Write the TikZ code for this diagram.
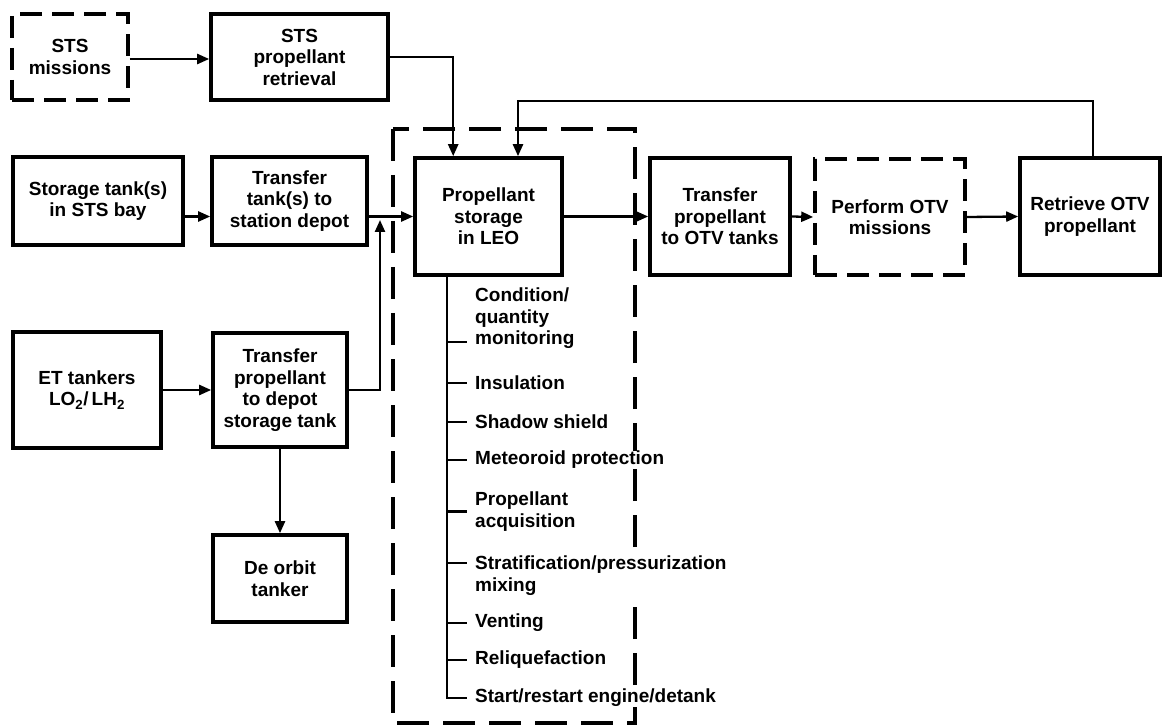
\documentclass[tikz,border=0pt]{standalone}
\usepackage{fontspec}
\setmainfont{Liberation Sans}
\usetikzlibrary{arrows.meta}
\begin{document}
\begin{tikzpicture}[x=1pt,y=-1pt,
  font=\fontsize{19}{21.5}\selectfont\bfseries,
  box/.style={draw,line width=3.6pt,align=center,inner sep=0pt},
  dbox/.style={box,dash pattern=on 22pt off 10pt},
  arr/.style={line width=2.3pt,-{Triangle[length=12pt,width=10pt]}},
  ln/.style={line width=2.3pt},
  item/.style={anchor=west,align=left,fill=white,inner xsep=2pt,inner ysep=0pt}]
\useasboundingbox (0,0) rectangle (1162,727);

% storage depot boundary
\draw[line width=3.2pt,dash pattern=on 32pt off 14pt] (393,129) rectangle (635,723);

% supply chain boxes
\node[dbox,minimum width=116pt,minimum height=86pt] (mis) at (70,57) {STS\\missions};
\node[box,minimum width=177pt,minimum height=86pt] (ret) at (299.5,57) {STS\\propellant\\retrieval};
\node[box,minimum width=170pt,minimum height=88pt] (bay) at (98,201) {Storage tank(s)\\in STS bay};
\node[box,minimum width=155pt,minimum height=88pt] (ttd) at (289.5,201) {Transfer\\tank(s) to\\station depot};
\node[box,minimum width=148pt,minimum height=116pt] (et) at (87,390) {ET tankers\\LO\textsubscript{2}/\,LH\textsubscript{2}};
\node[box,minimum width=134pt,minimum height=114pt] (tpd) at (280,390) {Transfer\\propellant\\to depot\\storage tank};
\node[box,minimum width=134pt,minimum height=87pt] (deo) at (280,578.5) {De orbit\\tanker};

% depot and OTV boxes
\node[box,minimum width=147pt,minimum height=117pt] (leo) at (488.5,216.5) {Propellant\\storage\\in LEO};
\node[box,minimum width=140pt,minimum height=117pt] (tov) at (720,216.5) {Transfer\\propellant\\to OTV tanks};
\node[dbox,minimum width=150pt,minimum height=116pt] (pov) at (890,217) {Perform OTV\\missions};
\node[box,minimum width=140pt,minimum height=117pt] (rov) at (1090,216.5) {Retrieve OTV\\propellant};

% flows
\draw[arr] (mis.east |- 0,59) -- (ret.west |- 0,59);
\draw[arr] (ret.east) -| ([xshift=40pt]leo.north west);
\coordinate (fb) at (518,101);
\draw[arr] ([xshift=3pt]rov.north) |- (fb) -- (fb |- leo.north);
\draw[arr] (bay.east |- leo.west) -- (ttd.west |- leo.west);
\draw[arr] (ttd.east |- leo.west) -- (leo.west);
\coordinate (jn) at (380,217);
\draw[arr] (tpd.east) -| ([yshift=-3pt]jn);
\draw[arr] (et.east) -- (tpd.west);
\draw[arr] (tpd.south) -- (deo.north);
\draw[arr] (leo.east) -- (tov.west);
\draw[arr] (tov.east) -- (pov.west);
\draw[arr] (pov.east) -- (rov.west);

% storage functions
\node[item] (i1) at (473,318.5) {Condition/\\quantity\\monitoring};
\node[item] (i2) at (473,383) {Insulation};
\node[item] (i3) at (473,422) {Shadow shield};
\node[item] (i4) at (473,460) {Meteoroid protection};
\node[item] (i5) at (473,511.5) {Propellant\\acquisition};
\node[item] (i6) at (473,575.5) {Stratification/pressurization\\mixing};
\node[item] (i7) at (473,623) {Venting};
\node[item] (i8) at (473,660) {Reliquefaction};
\node[item] (i9) at (473,698) {Start/restart engine/detank};

\coordinate (sp) at (447,275);
\draw[ln] (sp) -- (sp |- i9.west) -- ++(20,0);
\draw[ln] (sp |- 0,342) -- ++(20,0);
\foreach \n in {i2,i3,i4,i5,i7,i8}
  \draw[ln] (sp |- \n.west) -- ++(20,0);
\draw[ln] (sp |- 0,563) -- ++(20,0);
\end{tikzpicture}
\end{document}
